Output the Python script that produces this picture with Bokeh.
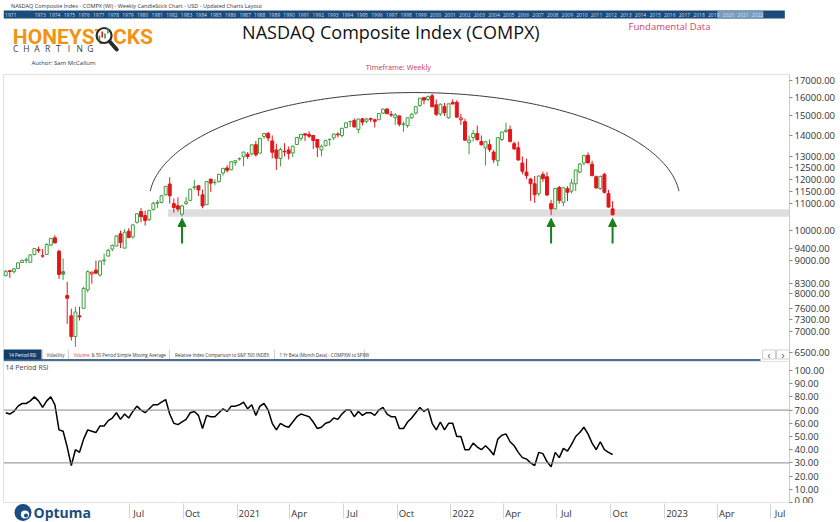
import numpy as np
import pandas as pd
from bokeh.plotting import figure
from bokeh.layouts import column
from bokeh.models import (Range1d, LinearScale, ColumnDataSource, Label, Span, Arrow, NormalHead,
                          FixedTicker, PrintfTickFormatter, CustomJSTickFormatter)
from bokeh.core.properties import value
from bokeh.embed import file_html
from bokeh.resources import INLINE

# ---------------------------------------------------------------- data
WEEK_ENDS = pd.date_range("2019-11-29", "2022-09-30", freq="W-FRI")

OPEN = [8530, 8680, 8650, 8750, 8935, 9010, 8943, 9190, 9360, 9140,
        9193, 9500, 9750, 9300, 8650, 7950, 7400, 6880, 7400, 7600,
        8110, 8580, 8700, 8550, 8990, 9140, 9370, 9470, 9890, 9400,
        9980, 9780, 10300, 10700, 10550, 10400, 10780, 11050, 11050, 11350,
        11790, 11000, 10920, 10600, 11000, 11130, 11650, 11720, 11350, 10960,
        12000, 11850, 11900, 12260, 12480, 12400, 12720, 12900, 12990, 13100,
        13120, 13550, 13150, 13950, 14100, 13730, 13300, 12900, 13240, 13300,
        13160, 13560, 13860, 14080, 14050, 14000, 13800, 13300, 13500, 13800,
        13880, 14070, 14000, 14400, 14700, 14760, 14300, 14850, 14720, 14860,
        14800, 14800, 15150, 15370, 15080, 14900, 15000, 14550, 14500, 14900,
        15150, 15560, 16000, 15900, 16110, 15600, 15100, 15500, 14900, 15730,
        15740, 14800, 14700, 13650, 13900, 14100, 13700, 13400, 13550, 13200,
        12800, 13800, 14200, 14300, 13600, 13400, 12700, 12300, 12000, 11800,
        11400, 12200, 12100, 11000, 10800, 11650, 11050, 11600, 11500, 11800,
        12300, 12700, 13050, 12650, 12100, 11600, 12200, 11400, 10800]
HIGH = [8706, 8700, 8772, 8927, 9022, 9093, 9204, 9390, 9451, 9373,
        9570, 9736, 9838, 9350, 9070, 8345, 7590, 7640, 7640, 8200,
        8700, 8650, 9000, 9000, 9220, 9380, 9523, 9845, 10002, 10056,
        10086, 10221, 10633, 10825, 10730, 10760, 11080, 11140, 11340, 11700,
        12074, 11200, 11245, 10960, 11260, 11600, 11965, 11730, 11560, 11920,
        12000, 11990, 12220, 12465, 12600, 12765, 12820, 12950, 13210, 13200,
        13580, 13728, 13880, 14100, 14175, 14000, 13600, 13410, 13620, 13460,
        13500, 13920, 14060, 14100, 14210, 14010, 13800, 13550, 13790, 13830,
        14090, 14160, 14380, 14640, 14760, 14870, 14840, 14870, 14900, 14910,
        14850, 15140, 15400, 15404, 15260, 15150, 15020, 14700, 14920, 15140,
        15520, 15980, 16020, 16120, 16212, 15900, 15680, 15700, 15660, 15900,
        15850, 15100, 14850, 14000, 14270, 14500, 14000, 13720, 13800, 13300,
        13900, 14190, 14646, 14500, 13700, 13700, 13000, 12900, 12050, 12130,
        12140, 12320, 12300, 11150, 11608, 11710, 11650, 11700, 12000, 12400,
        12700, 13050, 13181, 12800, 12150, 12150, 12270, 11550, 11100]
LOW = [8510, 8463, 8592, 8745, 8930, 8912, 8943, 9165, 9245, 9089,
       9180, 9470, 9560, 8436, 8402, 7195, 6780, 6631, 7280, 7600,
       8040, 8290, 8580, 8500, 8850, 9130, 9300, 9470, 9400, 9400,
       9745, 9720, 10250, 10300, 10180, 10350, 10730, 10830, 11010, 11330,
       11000, 10656, 10700, 10520, 10950, 11090, 11550, 11300, 10822, 10960,
       11470, 11740, 11850, 12150, 12280, 12390, 12580, 12810, 12560, 12880,
       13050, 12990, 13150, 13830, 13710, 12910, 12397, 12550, 13000, 12860,
       12960, 13550, 13730, 13730, 13880, 13340, 12970, 13000, 13480, 13500,
       13780, 13900, 13900, 14350, 14420, 14400, 14100, 14500, 14620, 14690,
       14400, 14780, 15120, 15100, 14950, 14530, 14450, 14180, 14380, 14850,
       15070, 15500, 15630, 15800, 15490, 15000, 15000, 15000, 14860, 15640,
       14900, 14530, 13740, 13094, 13700, 13750, 13500, 12587, 13200, 12700,
       12555, 13730, 14130, 13650, 13300, 12800, 12200, 12000, 11108, 11035,
       11300, 11880, 11300, 10565, 10800, 11000, 10900, 11100, 11400, 11500,
       12250, 12600, 12700, 12140, 11600, 11550, 11400, 10850, 10565]
CLOSE = [8665, 8656, 8734, 8925, 9006, 9021, 9179, 9389, 9315, 9151,
         9521, 9731, 9577, 8567, 8576, 7875, 6880, 7502, 7373, 8154,
         8650, 8635, 8605, 8980, 9015, 9325, 9490, 9814, 9589, 9946,
         9757, 10208, 10617, 10503, 10363, 10745, 11011, 11019, 11312, 11696,
         11313, 10854, 10793, 10914, 11075, 11580, 11672, 11548, 10912, 11895,
         11829, 11855, 12206, 12464, 12378, 12756, 12805, 12888, 13202, 12999,
         13543, 13071, 13856, 14095, 13874, 13192, 12920, 13320, 13215, 13139,
         13480, 13900, 14052, 14017, 13963, 13752, 13430, 13471, 13749, 13814,
         14069, 14030, 14360, 14639, 14702, 14427, 14837, 14673, 14836, 14823,
         14715, 15130, 15364, 15115, 15044, 15048, 14567, 14580, 14897, 15090,
         15498, 15972, 15861, 16057, 15492, 15085, 15631, 15170, 15653, 15645,
         14936, 14894, 13769, 13771, 14098, 13791, 13548, 13695, 13313, 12844,
         13894, 14169, 14262, 13711, 13351, 12839, 12335, 12145, 11805, 11355,
         12131, 12013, 11340, 10798, 11608, 11128, 11635, 11452, 11834, 12391,
         12658, 13047, 12705, 12142, 11631, 12112, 11448, 10868, 10575.62]
RSI = [68, 67, 69, 73, 75, 75, 77, 80, 77, 72,
       77, 80, 74, 55, 54, 42, 28, 40, 38, 48,
       55, 54, 53, 58, 58, 62, 64, 68, 63, 67,
       64, 69, 73, 70, 68, 71, 74, 74, 76, 78,
       67, 60, 59, 61, 63, 68, 69, 66, 56, 66,
       65, 65, 68, 71, 69, 73, 73, 74, 76, 71,
       74, 66, 73, 75, 70, 60, 55, 60, 58, 57,
       61, 65, 67, 66, 65, 61, 56, 57, 60, 61,
       64, 63, 67, 70, 70, 65, 69, 66, 68, 68,
       66, 70, 72, 67, 65, 65, 56, 56, 61, 64,
       68, 72, 69, 71, 60, 55, 61, 55, 60, 60,
       50, 50, 40, 40, 45, 42, 40, 43, 40, 36,
       48, 51, 52, 46, 43, 38, 34, 33, 30, 28,
       38, 37, 31, 27, 38, 34, 41, 39, 44, 50,
       53, 57, 52, 45, 40, 46, 40, 38, 36.36]

PRICE_TICKS = [6500, 7000, 7300, 7600, 8000, 8300, 9000, 9400, 10000, 11000,
               11500, 12000, 12500, 13000, 14000, 15000, 16000, 17000]
RSI_TICKS = [0, 10, 20, 30, 40, 50, 60, 70, 80, 90, 100]
RSI_LEVELS = [70, 30]
SUPPORT_LOW, SUPPORT_HIGH = 10500, 10790
SUPPORT_FROM = "2020-09-05"
ARROW_WEEKS = ["2020-09-25", "2022-06-17", "2022-09-30"]
ARROW_TAIL, ARROW_TIP = 9560, 10440
ARC_CENTER, ARC_HALF_DAYS, ARC_BASE, ARC_TOP = "2021-10-31", 453, 11120, 16290
QUARTERS = pd.date_range("2020-07-01", "2023-07-01", freq="QS")
TIMELINE_YEARS = [1971] + list(range(1973, 2023))

HEADER = "NASDAQ Composite Index - COMPX (WI) - Weekly CandleStick Chart - USD - Updated Charts Layout"
TITLE = "NASDAQ Composite Index (COMPX)"
TABS = ["14 Period RSI", "Volatility", "Volume", "& 50 Period Simple Moving Average",
        "Relative Index Comparison to S&P 500 INDEX", "1 Yr Beta (Month Data) - COMPXW to SPXW"]

assert len(WEEK_ENDS) == len(OPEN) == len(HIGH) == len(LOW) == len(CLOSE) == len(RSI) == 149

# ---------------------------------------------------------------- style / layout
UI = "Open Sans"
GREEN = "#3f9d3f"
RED = "#e3161b"
ARROW_GREEN = "#18801b"
NAVY = "#123e6c"
LOGO_BLUE = "#1c4c80"
BAR_SHIFT = pd.Timedelta(days=4)
BODY_W = 5 * 86400000

# time axis calibration: page x = 236.6 px at 2021-01-01, 0.5858 px per day
REF_DAY, PX_AT_REF, PX_PER_DAY = pd.Timestamp("2021-01-01"), 236.6, 0.5858


def page_date(px):
    return REF_DAY + pd.Timedelta(days=(px - PX_AT_REF) / PX_PER_DAY)


xr = Range1d(start=page_date(3), end=page_date(789))


def ms(ts):
    return pd.Timestamp(ts).value / 1e6


def style_right_axis(ax):
    ax.axis_line_color = "#cccccc"
    ax.major_tick_line_color = "#888888"
    ax.major_tick_out = 3
    ax.major_tick_in = 0
    ax.minor_tick_line_color = None
    ax.major_label_standoff = 2
    ax.major_label_text_font = UI
    ax.major_label_text_font_size = "9.5px"
    ax.major_label_text_color = "#333333"


def px_overlay(fig, top, bottom):
    fig.extra_x_ranges = {"px": Range1d(3, 789)}
    fig.extra_y_ranges = {"px": Range1d(bottom, top)}
    fig.extra_y_scales = {"px": LinearScale()}
    return dict(x_range_name="px", y_range_name="px")


# ---------------------------------------------------------------- header (page-pixel coords)
hdr = figure(width=840, height=74, x_range=Range1d(0, 840), y_range=Range1d(74, 0),
             x_axis_location=None, y_axis_location=None, toolbar_location=None,
             output_backend="svg", min_border=0)
hdr.grid.visible = False
hdr.outline_line_color = None


def htext(x, y, t, size, color="#222222", align="left", style="normal", font=UI):
    hdr.text(x=[x], y=[y], text=[t], text_font=value(font), text_font_size=size,
             text_color=color, text_align=align, text_baseline="middle", text_font_style=style)


htext(8, 5, HEADER, "5.5px", "#333333")
hdr.quad(left=[0], right=[835], top=[10], bottom=[18], fill_color="#1b4b7a", line_color=None)
hdr.quad(left=[763], right=[812], top=[10], bottom=[18], fill_color="#7b9bbd", line_color=None)
hdr.text(x=[33 + (yy - 1973) * 15.65 for yy in TIMELINE_YEARS], y=[14] * len(TIMELINE_YEARS),
         text=[str(yy) for yy in TIMELINE_YEARS], text_font=value(UI), text_font_size="5px",
         text_color="#cfdcea", text_baseline="middle")

# logo
htext(10, 36.5, "HONEYST", "21px", "#f39314", style="bold", font="Roboto")
hdr.circle(x=[107.5], y=[35], radius=8, fill_color="white", line_color="#2b2b2b", line_width=2.2)
hdr.segment(x0=[113.5], y0=[41], x1=[121], y1=[49], line_width=4, line_color="#2b2b2b", line_cap="round")
hdr.segment(x0=[102.5, 105.5, 108.5, 111.5], y0=[40, 37, 38, 33], x1=[102.5, 105.5, 108.5, 111.5],
            y1=[35, 31, 33, 28], line_color=[GREEN, RED, GREEN, GREEN], line_width=1.6)
htext(117, 36.5, "CKS", "21px", "#f39314", style="bold", font="Roboto")
hdr.text(x=[13 + i * 11.4 for i in range(8)], y=[48] * 8, text=list("CHARTING"), text_font=value(UI),
         text_font_size="8.5px", text_color="#3a3a3a", text_align="center", text_baseline="middle")

htext(414, 31, TITLE, "18px", "#111111", align="center")
htext(668, 26, "Fundamental Data", "9.5px", "#d43f6a")
htext(30, 62, "Author: Sam McCallum", "6px", "#333333")
htext(422, 66.5, "Timeframe: Weekly", "7.3px", "#c8385f", align="center")

# ---------------------------------------------------------------- price panel
p = figure(frame_width=786, frame_height=287, x_range=xr, y_range=Range1d(6298, 17364),
           x_axis_type="datetime", y_axis_type="log", x_axis_location=None, y_axis_location="right",
           toolbar_location=None, output_backend="svg",
           min_border_left=3, min_border_right=0, min_border_top=0, min_border_bottom=0)
p.grid.visible = False
p.outline_line_color = "#e2e2e2"
kw = px_overlay(p, 74, 361)

pa = p.yaxis[0]
pa.ticker = FixedTicker(ticks=PRICE_TICKS)
pa.formatter = PrintfTickFormatter(format="%.2f")
style_right_axis(pa)

# support zone
p.quad(left=[pd.Timestamp(SUPPORT_FROM)], right=[pd.Timestamp("2024-01-01")],
       bottom=[SUPPORT_LOW], top=[SUPPORT_HIGH], fill_color="#dedede", line_color=None)

# rounded top
t = np.radians(np.linspace(5, 175, 181))
c0 = pd.Timestamp(ARC_CENTER)
arc_x = [c0 + pd.Timedelta(days=float(ARC_HALF_DAYS * np.cos(a))) for a in t]
arc_y = np.exp(np.log(ARC_BASE) + np.log(ARC_TOP / ARC_BASE) * np.sin(t))
p.line(arc_x, arc_y, line_color="#3a3a3a", line_width=1)

# candles
o = np.array(OPEN, float)
c = np.array(CLOSE, float)
prev = np.r_[o[0], c[:-1]]
col = np.where(c >= prev, GREEN, RED)
fill = np.where(c >= o, "white", col)
src = ColumnDataSource(dict(x=WEEK_ENDS + BAR_SHIFT, high=HIGH, low=LOW,
                            top=np.maximum(o, c), bottom=np.minimum(o, c), col=col, fill=fill))
p.segment(x0="x", y0="high", x1="x", y1="low", line_color="col", line_width=1, source=src)
p.vbar(x="x", top="top", bottom="bottom", width=BODY_W, fill_color="fill", line_color="col",
       line_width=1, source=src)

# arrows at the support touches
for wk in ARROW_WEEKS:
    xa = ms(pd.Timestamp(wk) + BAR_SHIFT)
    p.add_layout(Arrow(end=NormalHead(size=8, fill_color=ARROW_GREEN, line_color=ARROW_GREEN),
                       x_start=xa, y_start=ARROW_TAIL, x_end=xa, y_end=ARROW_TIP,
                       line_color=ARROW_GREEN, line_width=2))

# tab bar (page-pixel overlay)
p.quad(left=[3], right=[789], top=[348], bottom=[361], fill_color="white", line_color=None, **kw)
p.quad(left=[3], right=[41], top=[349], bottom=[359], fill_color=NAVY, line_color=None, **kw)
p.segment(x0=[42, 68, 169, 274, 364], y0=[349] * 5, x1=[42, 68, 169, 274, 364], y1=[359] * 5,
          line_color="#cfcfcf", line_width=1, **kw)
p.segment(x0=[3], y0=[359.5], x1=[760], y1=[359.5], line_color=NAVY, line_width=1.5, **kw)
tab_x = [22, 55, 73, 91, 221.5, 279]
tab_align = ["center", "center", "left", "left", "center", "left"]
tab_col = ["white", "#333333", "#e0383b", "#333333", "#333333", "#333333"]
p.text(x=tab_x, y=[354] * 6, text=TABS, text_align=tab_align, text_color=tab_col,
       text_font=value(UI), text_font_size="4.5px", text_baseline="middle", **kw)
p.quad(left=[762, 776], right=[775, 789], top=[349.5, 349.5], bottom=[358.5, 358.5],
       fill_color="white", line_color="#cfcfcf", **kw)
p.text(x=[768.5, 782.5], y=[354, 354], text=["\u2039", "\u203a"], text_align="center",
       text_baseline="middle", text_font=value(UI), text_font_size="10px", text_color="#555555", **kw)

p.add_layout(Label(x=787, x_units="screen", y=CLOSE[-1], text=f"{CLOSE[-1]:,.2f}",
                   text_color="white", background_fill_color="#e8141a", text_font=UI,
                   text_font_size="10.5px", text_baseline="middle", padding=1))

# ---------------------------------------------------------------- RSI panel (frame page y 361..503)
RSI_HI = (502 - 361) / 1.32
RSI_LO = (502 - 503) / 1.32
r = figure(frame_width=786, frame_height=142, x_range=xr, y_range=Range1d(RSI_LO, RSI_HI),
           x_axis_type="datetime", x_axis_location=None, y_axis_location="right",
           toolbar_location=None, output_backend="svg", min_border_left=3, min_border_right=0,
           min_border_top=0, min_border_bottom=0)
r.grid.visible = False
r.outline_line_color = "#e2e2e2"

ra = r.yaxis[0]
ra.ticker = FixedTicker(ticks=RSI_TICKS)
ra.formatter = PrintfTickFormatter(format="%.2f")
style_right_axis(ra)

for lv in RSI_LEVELS:
    r.add_layout(Span(location=lv, dimension="width", line_color="#8a8a8a", line_width=1))
r.line(WEEK_ENDS + BAR_SHIFT, RSI, line_color="black", line_width=1.5)

r.add_layout(Label(x=2, x_units="screen", y=102.3, text="14 Period RSI", text_font=UI,
                   text_font_size="7px", text_color="#444444", text_baseline="middle"))
r.add_layout(Label(x=787, x_units="screen", y=RSI[-1], text=f"{RSI[-1]:.2f}", text_color="white",
                   background_fill_color="black", text_font=UI, text_font_size="10.5px",
                   text_baseline="middle", padding=1))

# ---------------------------------------------------------------- bottom strip: time axis + logo
bf = figure(frame_width=786, height=19, x_range=xr, y_range=Range1d(0, 1),
            x_axis_type="datetime", x_axis_location="above", y_axis_location=None,
            toolbar_location=None, output_backend="svg", min_border_left=3, min_border_right=51,
            min_border_top=0, min_border_bottom=0)
bf.grid.visible = False
bf.outline_line_color = None
kb = px_overlay(bf, 503, 522)

label_ticks = [ms(q + pd.Timedelta(days=21 if q.month == 1 else 16)) for q in QUARTERS]
xa_ = bf.xaxis[0]
xa_.ticker = FixedTicker(ticks=label_ticks, minor_ticks=[ms(q) for q in QUARTERS])
xa_.formatter = CustomJSTickFormatter(code="""
const d = new Date(tick);
const m = d.getUTCMonth();
const n = ["Jan","Feb","Mar","Apr","May","Jun","Jul","Aug","Sep","Oct","Nov","Dec"];
return m === 0 ? String(d.getUTCFullYear()) : n[m];
""")
xa_.major_tick_out = 0
xa_.major_tick_in = 0
xa_.minor_tick_out = 0
xa_.minor_tick_in = 15
xa_.minor_tick_line_color = "#d5d5d5"
xa_.axis_line_color = None
xa_.major_label_standoff = -16
xa_.major_label_text_font = UI
xa_.major_label_text_font_size = "9.5px"
xa_.major_label_text_color = "#333333"

# Optuma logo
bf.circle(x=[22.5], y=[512], radius=8.5, fill_color=LOGO_BLUE, line_color=None, **kb)
bf.circle(x=[24.5], y=[514], radius=4.1, fill_color="white", line_color=None, **kb)
bf.circle(x=[25.5], y=[515], radius=2, fill_color=LOGO_BLUE, line_color=None, **kb)
bf.text(x=[33], y=[512], text=["Optuma"], text_font=value(UI), text_font_size="14px",
        text_font_style="bold", text_color=LOGO_BLUE, text_baseline="middle", **kb)

layout = column(hdr, p, r, bf, spacing=0)
open("out.html", "w").write(file_html(layout, INLINE))
